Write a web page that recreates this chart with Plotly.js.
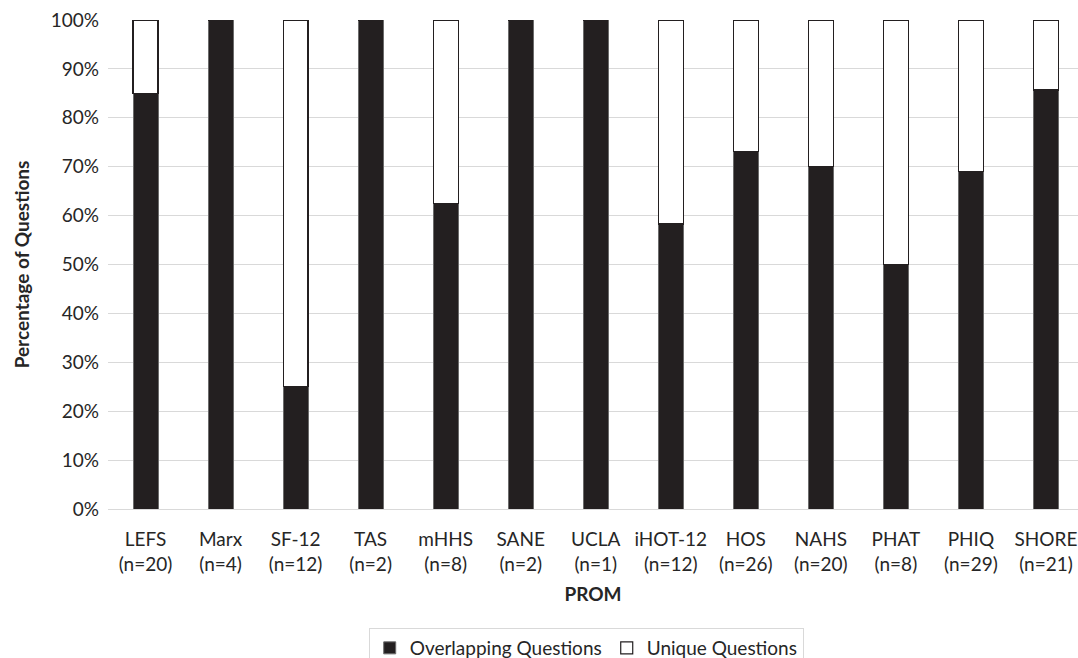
<!DOCTYPE html>
<html>
<head>
<meta charset="utf-8">
<script src="https://cdn.plot.ly/plotly-3.0.1.min.js"></script>
<style>html,body{margin:0;padding:0;background:#fff;}#chart{width:1078px;height:658px;}</style>
</head>
<body>
<div id="chart"></div>
<script>
const categories = ["LEFS<br>(n=20)", "Marx<br>(n=4)", "SF-12<br>(n=12)", "TAS<br>(n=2)", "mHHS<br>(n=8)", "SANE<br>(n=2)", "UCLA<br>(n=1)", "iHOT-12<br>(n=12)", "HOS<br>(n=26)", "NAHS<br>(n=20)", "PHAT<br>(n=8)", "PHIQ<br>(n=29)", "SHORE<br>(n=21)"];
const overlapping = [85, 100, 25, 100, 62.5, 100, 100, 58.3, 73.1, 70, 50, 69, 85.7];
const unique = [15, 0, 75, 0, 37.5, 0, 0, 41.7, 26.9, 30, 50, 31, 14.3];
const yTickVals = [0, 10, 20, 30, 40, 50, 60, 70, 80, 90, 100];
const yTickText = ["0%", "10%", "20%", "30%", "40%", "50%", "60%", "70%", "80%", "90%", "100%"];

const FONT = "Lato, 'Open Sans', sans-serif";
const DARK = "#231f20";
const TXT = "#262626";

const traces = [
  {type: "bar", name: "Overlapping Questions", x: categories, y: overlapping,
   marker: {color: DARK, line: {color: "#6b6b6b", width: 1}}},
  {type: "bar", name: "Unique Questions", x: categories, y: unique,
   marker: {color: "#ffffff", line: {color: DARK, width: 1.2}}}
];

const layout = {
  width: 1078, height: 658,
  margin: {l: 108, r: 0, t: 20, b: 149, autoexpand: false},
  barmode: "stack",
  bargap: 0.667,
  paper_bgcolor: "#fff", plot_bgcolor: "#fff",
  font: {family: FONT, size: 19, color: TXT},
  showlegend: true,
  legend: {orientation: "h", x: 0.493, xanchor: "center", y: -0.2434, yanchor: "top",
           bordercolor: "#d9d9d9", borderwidth: 1, font: {size: 19, color: TXT},
           traceorder: "normal"},
  xaxis: {type: "category", range: [-0.5, 12.427], showgrid: false, zeroline: false,
          showline: true, linecolor: "#d9d9d9", linewidth: 1, ticks: "",
          ticklabelstandoff: 13,
          tickfont: {size: 19, color: TXT},
          title: {text: "<b>PROM</b>", font: {size: 19, color: TXT}, standoff: 14}},
  yaxis: {range: [0, 100], tickvals: yTickVals, ticktext: yTickText,
          showgrid: true, gridcolor: "#d9d9d9", gridwidth: 1, zeroline: false,
          showline: false, ticks: "", ticklabelstandoff: 8,
          tickfont: {size: 19, color: TXT},
          title: {text: "<b>Percentage of Questions</b>", font: {size: 19, color: TXT}, standoff: 16}}
};

Plotly.newPlot("chart", traces, layout, {displayModeBar: false, staticPlot: true});
</script>
</body>
</html>
